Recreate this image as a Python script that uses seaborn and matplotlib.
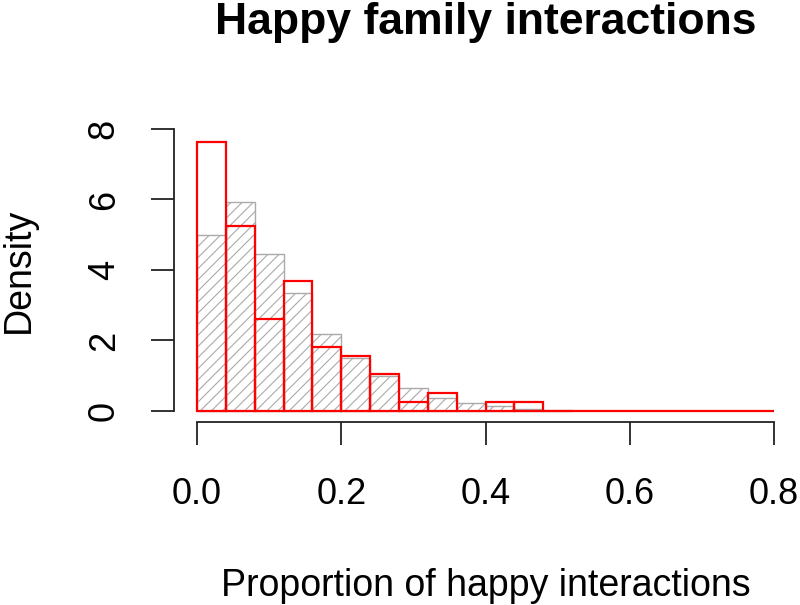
"""Overlaid density histograms of happy family interactions (R base-graphics look)."""

import matplotlib

matplotlib.use("Agg")

import matplotlib.pyplot as plt
import seaborn as sns

sns.set_theme(style="white")
plt.rcParams["font.family"] = ["Liberation Sans", "DejaVu Sans"]
plt.rcParams["hatch.linewidth"] = 0.8
plt.rcParams["text.color"] = "black"
plt.rcParams["xtick.color"] = "black"
plt.rcParams["ytick.color"] = "black"
plt.rcParams["axes.labelcolor"] = "black"

# bin layout (width 0.04)
BIN_EDGES = [0.00, 0.04, 0.08, 0.12, 0.16, 0.20, 0.24, 0.28, 0.32, 0.36, 0.40,
             0.44, 0.48, 0.52, 0.56, 0.60, 0.64, 0.68, 0.72, 0.76, 0.80]
BIN_MIDS = [0.02, 0.06, 0.10, 0.14, 0.18, 0.22, 0.26, 0.30, 0.34, 0.38,
            0.42, 0.46, 0.50, 0.54, 0.58, 0.62, 0.66, 0.70, 0.74, 0.78]

# densities
grey_density = [4.99, 5.92, 4.44, 3.36, 2.19, 1.50, 1.00, 0.65, 0.38, 0.22,
                0.15, 0.07, 0.03]
red_density = [7.64, 5.26, 2.60, 3.69, 1.82, 1.55, 1.05, 0.26, 0.52, 0.00,
               0.26, 0.26, 0.00, 0.00, 0.00, 0.00, 0.00, 0.00, 0.00, 0.00]

X_TICKS = [0.0, 0.2, 0.4, 0.6, 0.8]
X_TICK_LABELS = ["0.0", "0.2", "0.4", "0.6", "0.8"]
Y_TICKS = [0, 2, 4, 6, 8]

fig = plt.figure(figsize=(8, 6.05), dpi=100)
ax = fig.add_axes([0.2174, 0.302, 0.779, 0.5035])

sns.histplot(
    x=BIN_MIDS[: len(grey_density)],
    weights=grey_density,
    bins=BIN_EDGES[: len(grey_density) + 1],
    stat="count",
    color="white",
    edgecolor="#aaaaaa",
    linewidth=1.0,
    hatch="///",
    alpha=1,
    ax=ax,
)
sns.histplot(
    x=BIN_MIDS,
    weights=red_density,
    bins=BIN_EDGES,
    stat="count",
    fill=False,
    color="#ff0000",
    linewidth=1.6,
    ax=ax,
)

ax.set_xlim(-0.032, 0.832)
ax.set_ylim(-0.32, 8.32)
ax.set_xticks(X_TICKS, X_TICK_LABELS)
ax.set_yticks(Y_TICKS)

for side in ["top", "right"]:
    ax.spines[side].set_visible(False)
ax.spines["left"].set_bounds(0, 8)
ax.spines["bottom"].set_bounds(0, 0.8)
for side in ["left", "bottom"]:
    ax.spines[side].set_color("#222222")
    ax.spines[side].set_linewidth(1.3)

ax.tick_params(axis="both", direction="out", length=16.5, width=1.3,
               color="#222222", labelsize=26, bottom=True, left=True)
ax.tick_params(axis="x", pad=23)
ax.tick_params(axis="y", pad=21, labelrotation=90)
for lab in ax.get_yticklabels():
    lab.set_verticalalignment("center")

ax.set_xlabel("Proportion of happy interactions", fontsize=27, labelpad=40)
ax.set_ylabel("Density", fontsize=27, labelpad=36)
ax.set_title("Happy family interactions", fontsize=32, fontweight="bold", pad=60)

fig.savefig("out.png", dpi=100)
